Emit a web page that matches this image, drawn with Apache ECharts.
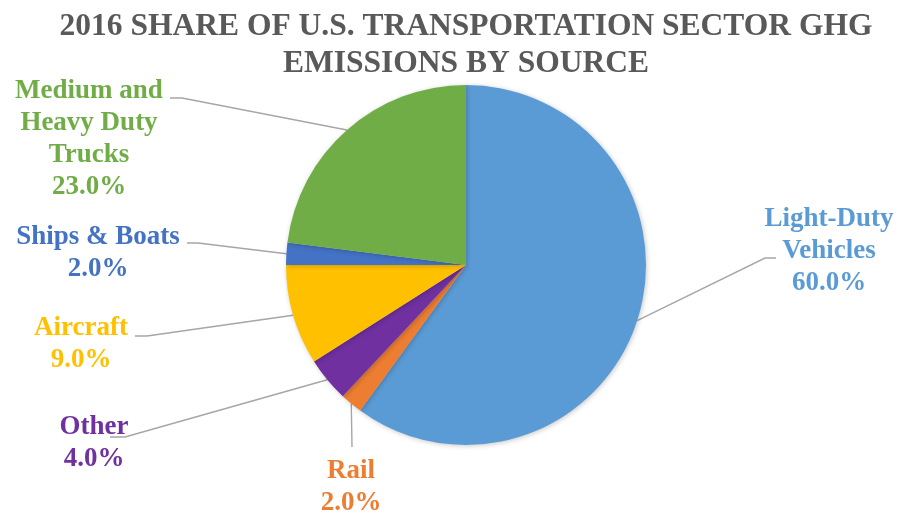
<!DOCTYPE html>
<html>
<head>
<meta charset="utf-8">
<title>2016 Share of U.S. Transportation Sector GHG Emissions by Source</title>
<script src="https://cdn.jsdelivr.net/npm/echarts@6/dist/echarts.min.js"></script>
<style>
  html, body { margin: 0; padding: 0; background: #ffffff; }
  #chart { width: 899px; height: 514px; }
</style>
</head>
<body>
<div id="chart"></div>
<script>
// Sources, clockwise from 12 o'clock
const categories = [
  'Light-Duty\nVehicles',
  'Rail',
  'Other',
  'Aircraft',
  'Ships & Boats',
  'Medium and\nHeavy Duty\nTrucks'
];
// Share of sector emissions, percent
const shares = [60.0, 2.0, 4.0, 9.0, 2.0, 23.0];
const colors = ['#5B9BD5', '#ED7D31', '#7030A0', '#FFC000', '#4472C4', '#70AD47'];

// Label block centres and leader-line elbows / ends for each slice
const labelSpots = [
  { at: [829, 251], elbow: [765, 258], end: [776, 258] },
  { at: [351, 487], elbow: [352, 447], end: [352, 447] },
  { at: [94, 443],  elbow: [125, 437], end: [110, 437] },
  { at: [81, 344],  elbow: [147, 336], end: [135, 336] },
  { at: [98, 253],  elbow: [198, 243], end: [187, 243] },
  { at: [89, 139],  elbow: [182, 98],  end: [170, 98] }
];

const seriesData = categories.map((name, i) => ({
  name: name,
  value: shares[i],
  itemStyle: { color: colors[i] },
  label: { color: colors[i] }
}));

const chart = echarts.init(document.getElementById('chart'), null, { renderer: 'canvas' });

chart.setOption({
  backgroundColor: '#ffffff',
  animation: false,
  graphic: [{
    type: 'text',
    x: 466,
    y: 45,
    style: {
      text: '2016 SHARE OF U.S. TRANSPORTATION SECTOR GHG\nEMISSIONS BY SOURCE',
      fill: '#595959',
      font: 'bold 31.5px "Liberation Serif", "Times New Roman", serif',
      lineHeight: 37,
      align: 'center',
      verticalAlign: 'middle'
    }
  }],
  series: [{
    type: 'pie',
    center: [466, 265],
    radius: [0, 180],
    startAngle: 90,
    clockwise: true,
    avoidLabelOverlap: false,
    itemStyle: {
      shadowBlur: 5,
      shadowColor: 'rgba(0,0,0,0.22)',
      shadowOffsetX: 1,
      shadowOffsetY: 1
    },
    label: {
      show: true,
      position: 'outside',
      fontFamily: '"Liberation Serif", "Times New Roman", serif',
      fontWeight: 'bold',
      fontSize: 27,
      lineHeight: 32,
      align: 'center',
      formatter: (p) => p.name + '\n' + p.value.toFixed(1) + '%'
    },
    labelLine: {
      show: true,
      length: 20,
      length2: 10,
      smooth: false,
      lineStyle: { color: '#A6A6A6', width: 1.4 }
    },
    labelLayout: (params) => {
      const spot = labelSpots[params.dataIndex];
      const start = params.labelLinePoints ? params.labelLinePoints[0] : spot.elbow;
      return {
        x: spot.at[0],
        y: spot.at[1],
        align: 'center',
        verticalAlign: 'middle',
        labelLinePoints: [start, spot.elbow, spot.end]
      };
    },
    emphasis: { disabled: true },
    data: seriesData
  }]
});
</script>
</body>
</html>
